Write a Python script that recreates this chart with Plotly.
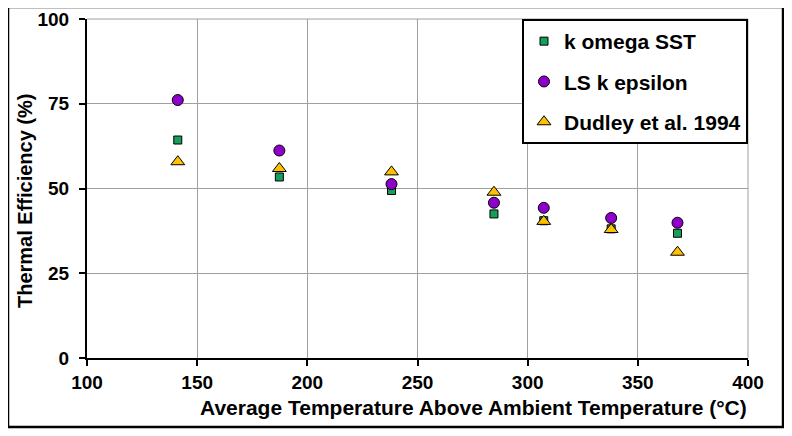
import plotly.graph_objects as go

temps = [141.2, 187.3, 238.2, 284.7, 307.3, 337.9, 368.0]
k_omega_sst = [64.3, 53.4, 49.4, 42.5, 40.5, 38.1, 36.8]
ls_k_epsilon = [76.1, 61.2, 51.3, 45.8, 44.3, 41.3, 39.9]
dudley_1994 = [57.9, 55.9, 54.9, 48.9, 40.3, 37.9, 31.2]

x_ticks = [100, 150, 200, 250, 300, 350, 400]
y_ticks = [0, 25, 50, 75, 100]

x_title = "Average Temperature Above Ambient Temperature (°C)"
y_title = "Thermal Efficiency (%)"

FONT = "Liberation Sans, Arial, sans-serif"

fig = go.Figure()
fig.add_trace(go.Scatter(
    x=temps, y=k_omega_sst, mode="markers", name="k omega SST", legendgroup="a",
    marker=dict(symbol="square", size=8, color="#14A05A", line=dict(color="black", width=1)),
))
fig.add_trace(go.Scatter(
    x=temps, y=ls_k_epsilon, mode="markers", name="LS k epsilon", legendgroup="b",
    marker=dict(symbol="circle", size=11, color="#9000CC", line=dict(color="black", width=1)),
))
fig.add_trace(go.Scatter(
    x=temps, y=dudley_1994, mode="markers", name="Dudley et al. 1994", legendgroup="c",
    marker=dict(symbol="triangle-up", size=12, color="#FFC000", line=dict(color="black", width=1)),
))

fig.update_layout(
    width=792, height=436,
    margin=dict(l=79, r=52, t=11, b=86, autoexpand=False),
    paper_bgcolor="white", plot_bgcolor="white",
    font=dict(family=FONT, size=19, color="black", weight="bold"),
    showlegend=True,
    legend=dict(
        x=1, y=1, xanchor="right", yanchor="top",
        bgcolor="white", bordercolor="black", borderwidth=2,
        font=dict(family=FONT, size=21, color="black", weight="bold"),
        traceorder="grouped", tracegroupgap=10, itemwidth=30,
    ),
    xaxis=dict(
        range=[100, 400], tickvals=x_ticks, ticktext=[str(v) for v in x_ticks],
        showgrid=True, gridcolor="#A0A0A0", gridwidth=1,
        showline=True, linecolor="black", linewidth=2,
        ticks="outside", ticklen=6, tickwidth=2, tickcolor="black",
        zeroline=False, automargin=False,
        tickfont=dict(family=FONT, size=19, color="black", weight="bold"),
    ),
    yaxis=dict(
        range=[0, 100], tickvals=y_ticks, ticktext=[str(v) for v in y_ticks],
        showgrid=True, gridcolor="#A0A0A0", gridwidth=1,
        showline=True, linecolor="black", linewidth=2,
        ticks="outside", ticklen=6, tickwidth=2, tickcolor="black",
        ticklabelstandoff=6,
        zeroline=False, automargin=False,
        tickfont=dict(family=FONT, size=19, color="black", weight="bold"),
    ),
)

# axis titles (placed as in the original)
fig.add_annotation(
    text=x_title, xref="paper", yref="paper", x=0.584, y=0,
    xanchor="center", yanchor="middle", yshift=-49, showarrow=False,
    font=dict(family=FONT, size=21, color="black", weight="bold"),
)
fig.add_annotation(
    text=y_title, xref="paper", yref="paper", x=-0.0938, y=0.466,
    xanchor="center", yanchor="middle", textangle=-90, showarrow=False,
    font=dict(family=FONT, size=20, color="black", weight="bold"),
)

# top and right plot edges as gray lines (like gridlines)
fig.add_shape(type="line", xref="paper", yref="paper", x0=0, x1=1, y0=1, y1=1,
              line=dict(color="#A0A0A0", width=1), layer="below")
fig.add_shape(type="line", xref="paper", yref="paper", x0=1, x1=1, y0=0, y1=1,
              line=dict(color="#A0A0A0", width=1), layer="below")
# outer chart border
fig.add_shape(type="rect", xref="paper", yref="paper",
              x0=-0.1195, x1=1.053, y0=-0.2035, y1=1.0354,
              line=dict(color="black", width=2.5), fillcolor="rgba(0,0,0,0)")

fig.write_html("out.html")
